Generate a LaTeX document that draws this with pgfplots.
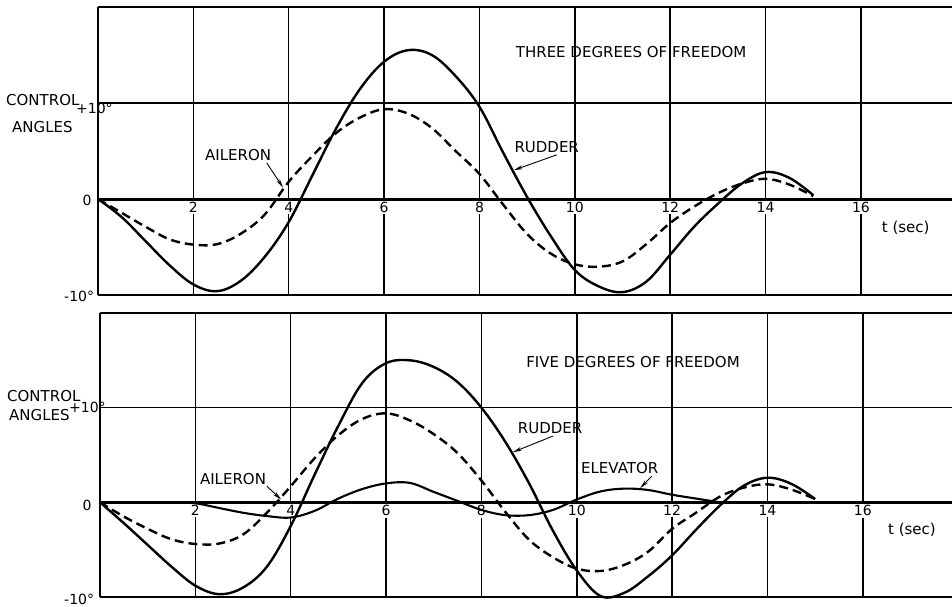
\documentclass[border=0pt]{standalone}
\usepackage{pgfplots}
\pgfplotsset{compat=1.18}
\usepackage{fontspec}
\setmainfont{DejaVu Sans}
\usetikzlibrary{arrows.meta}

\pgfplotsset{
  panel/.style={
    scale only axis,
    anchor=south west,
    xmin=0, ymin=-10, ymax=20,
    xtick={2,4,...,16}, ytick={10},
    xticklabels={}, yticklabels={},
    major tick length=0pt,
    grid=major,
    major grid style={black, line width=1.5pt},
    axis line style={draw=none},
    clip=false,
  },
  rud/.style={black, line width=2.4pt, smooth, tension=0.6},
  ail/.style={black, line width=2.4pt, smooth, tension=0.6, dash pattern=on 9pt off 5pt},
  elev/.style={black, line width=2.1pt, smooth, tension=0.6},
}
\tikzset{
  lbl/.style={font=\fontsize{15}{17}\selectfont, inner sep=0pt},
  num/.style={font=\fontsize{14}{16}\selectfont, inner sep=0pt},
  tk/.style={font=\fontsize{14}{16}\selectfont, fill=white, inner sep=1.5pt, anchor=north, yshift=-1.5pt},
  ptr/.style={black, line width=0.9pt, -{Stealth[length=9pt, width=4pt, open]}},
}
% time labels sitting just under the zero line
\newcommand\timelabels{%
  \node[tk] at (axis cs:2,0) {2};
  \node[tk] at (axis cs:4,0) {4};
  \node[tk] at (axis cs:6,0) {6};
  \node[tk] at (axis cs:8,0) {8};
  \node[tk] at (axis cs:10,0) {10};
  \node[tk] at (axis cs:12,0) {12};
  \node[tk] at (axis cs:14,0) {14};
  \node[tk] at (axis cs:16,0) {16};
}

\begin{document}
\begin{tikzpicture}
\useasboundingbox (0,0) rectangle (952pt,606pt);

% ---------------- three degrees of freedom ----------------
\begin{axis}[panel, at={(98pt,311pt)}, width=854pt, height=288pt, xmax=17.91]
  \draw[line width=2.4pt] (axis cs:0,-10) -- (axis cs:0,20);
  \draw[line width=1.5pt] (axis cs:0,20) -- (axis cs:17.91,20);
  \draw[line width=1.6pt] (axis cs:0,-10) -- (axis cs:17.91,-10);
  \draw[line width=3pt] (axis cs:0,0) -- (axis cs:17.91,0);
  \timelabels

  % rudder
  \addplot[rud] coordinates {
    (0,0) (0.5,-1.9) (1,-4.4) (1.5,-6.9) (2,-8.9) (2.5,-9.6) (3,-8.5)
    (3.5,-6.0) (4,-2.4) (4.5,2.5) (5,7.4) (5.5,11.5) (6,14.3) (6.5,15.5)
    (7,15.0) (7.5,12.8) (8,9.6) (8.5,4.8) (9,0.2) (9.5,-3.9) (10,-7.4)
    (10.5,-9.1) (11,-9.7) (11.5,-8.6) (12,-5.8) (12.5,-2.9) (13,-0.5)
    (13.5,1.6) (14,2.8) (14.5,2.2) (15,0.4)
  };
  % aileron
  \addplot[ail] coordinates {
    (0,0) (0.5,-1.45) (1,-2.9) (1.5,-4.2) (2,-4.75) (2.5,-4.7) (3,-3.6)
    (3.5,-1.6) (4,1.8) (4.5,4.5) (5,6.9) (5.5,8.5) (6,9.35) (6.5,8.9)
    (7,7.4) (7.5,5.0) (8,2.6) (8.5,-0.6) (9,-3.65) (9.5,-5.7) (10,-6.8)
    (10.5,-7.05) (11,-6.5) (11.5,-4.7) (12,-2.5) (12.5,-0.8) (13,0.6)
    (13.5,1.6) (14,2.1) (14.5,1.5) (15,0.3)
  };

  \node[lbl] at (axis cs:11.18,15.3) {THREE DEGREES OF FREEDOM};
  \node[lbl] at (axis cs:2.94,4.6) {AILERON};
  \draw[ptr] (axis cs:3.54,3.75) -- (axis cs:3.88,1.2);
  \node[lbl] at (axis cs:9.41,5.4) {RUDDER};
  \draw[ptr] (axis cs:9.62,4.6) -- (axis cs:8.72,3.0);
  \node[lbl] at (axis cs:16.94,-3.0) {t (sec)};
\end{axis}

% ---------------- five degrees of freedom ----------------
\begin{axis}[panel, at={(100pt,9pt)}, width=852pt, height=284pt, xmax=17.87]
  \draw[line width=2.4pt] (axis cs:0,-10) -- (axis cs:0,20);
  \draw[line width=1.5pt] (axis cs:0,20) -- (axis cs:17.87,20);
  \draw[line width=1.6pt] (axis cs:0,-10) -- (axis cs:17.87,-10);
  \draw[line width=3pt] (axis cs:0,0) -- (axis cs:17.87,0);
  \timelabels

  % rudder
  \addplot[rud] coordinates {
    (0,0) (0.5,-2.2) (1,-4.5) (1.5,-6.8) (2,-8.8) (2.5,-9.7) (3,-9.0)
    (3.5,-6.8) (4,-2.5) (4.5,2.9) (5,8.1) (5.5,12.6) (6,14.7) (6.5,15.0)
    (7,14.3) (7.5,12.7) (8,10.0) (8.5,6.4) (9,2.0) (9.5,-3.0) (10,-7.2)
    (10.5,-9.9) (11,-9.55) (11.5,-7.8) (12,-5.6) (12.5,-2.9) (13,-0.35)
    (13.5,1.75) (14,2.6) (14.5,1.95) (15,0.35)
  };
  % aileron
  \addplot[ail] coordinates {
    (0,0) (0.5,-1.5) (1,-2.8) (1.5,-3.9) (2,-4.4) (2.5,-4.35) (3,-3.4)
    (3.5,-1.1) (4,1.7) (4.5,4.65) (5,7.1) (5.5,8.8) (6,9.4) (6.5,8.65)
    (7,7.2) (7.5,5.2) (8,2.3) (8.5,-1.0) (9,-3.95) (9.5,-5.8) (10,-7.0)
    (10.5,-7.25) (11,-6.6) (11.5,-5.2) (12,-2.8) (12.5,-1.1) (13,0.6)
    (13.5,1.55) (14,1.9) (14.5,1.35) (15,0.35)
  };
  % elevator
  \addplot[elev] coordinates {
    (0,0) (1,0) (1.5,0) (2,-0.1) (2.5,-0.6) (3,-1.1) (3.5,-1.45) (4,-1.6)
    (4.5,-0.9) (5,0.4) (5.5,1.4) (6,2.0) (6.5,2.05) (7,1.1) (7.5,0.15)
    (8,-0.8) (8.5,-1.35) (9,-1.35) (9.5,-0.8) (10,0.3) (10.5,1.15)
    (11,1.45) (11.5,1.3) (12,0.8) (12.5,0.4) (13,0)
  };

  \node[lbl] at (axis cs:11.18,14.8) {FIVE DEGREES OF FREEDOM};
  \node[lbl] at (axis cs:2.79,2.5) {AILERON};
  \draw[ptr] (axis cs:3.5,1.7) -- (axis cs:3.8,0.3);
  \node[lbl] at (axis cs:9.44,7.8) {RUDDER};
  \draw[ptr] (axis cs:9.5,7.0) -- (axis cs:8.66,5.3);
  \node[lbl] at (axis cs:10.9,3.6) {ELEVATOR};
  \draw[ptr] (axis cs:11.57,2.75) -- (axis cs:11.33,1.5);
  \node[lbl] at (axis cs:17.03,-2.9) {t (sec)};
\end{axis}

% vertical scale labels
\node[lbl, anchor=west] at (6pt,506pt) {CONTROL};
\node[lbl, anchor=west] at (12pt,479pt) {ANGLES};
\node[num, anchor=west] at (76pt,498pt) {+10°};
\node[num] at (87pt,406pt) {0};
\node[num, anchor=west] at (64pt,310pt) {-10°};

\node[lbl, anchor=west] at (7pt,210pt) {CONTROL};
\node[lbl, anchor=west] at (9pt,191pt) {ANGLES};
\node[num, anchor=west] at (69pt,199pt) {+10°};
\node[num] at (87pt,101pt) {0};
\node[num, anchor=west] at (64pt,7pt) {-10°};
\end{tikzpicture}
\end{document}
